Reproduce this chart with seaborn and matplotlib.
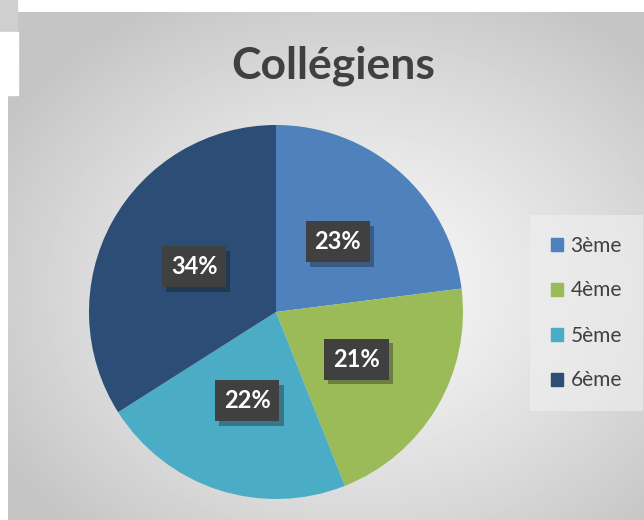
import numpy as np
import seaborn as sns
import matplotlib.pyplot as plt
import matplotlib.patheffects as pe
from matplotlib.patches import Rectangle

# data
categories = ["3ème", "4ème", "5ème", "6ème"]
shares = [23, 21, 22, 34]
colors = ["#4F81BD", "#9BBB59", "#4BACC6", "#2C4D75"]

sns.set_theme(style="white")
plt.rcParams['font.family'] = ['Lato', 'DejaVu Sans']

W, H = 644, 520
fig = plt.figure(figsize=(W / 100, H / 100), dpi=100)
fig.patch.set_facecolor("white")

# radial grey gradient behind the chart area
bg = fig.add_axes([8 / W, 0, (W - 8) / W, (H - 12) / H])
yy, xx = np.mgrid[0:1:300j, 0:1:380j]
dist = np.sqrt(((xx - 0.55) / 0.8) ** 2 + ((yy - 0.45) / 0.8) ** 2)
shade = np.clip(0.97 - 0.26 * dist ** 1.3, 0.77, 0.97)
bg.imshow(shade, cmap="gray", vmin=0, vmax=1, extent=[0, 1, 0, 1],
          aspect="auto", origin="lower")
bg.set_axis_off()

# little grey tab at the top-left corner
fig.patches.append(Rectangle((0, (H - 32) / H), 17 / W, 32 / H,
                             transform=fig.transFigure, color="#cfcfcf", zorder=0.5))
fig.patches.append(Rectangle((0, (H - 95) / H), 18 / W, 63 / H,
                             transform=fig.transFigure, color="white", zorder=0.5))

# pie
cx, cy, r = 276, 312, 187
ax = fig.add_axes([(cx - r) / W, (H - cy - r) / H, 2 * r / W, 2 * r / H])
wedges, _ = ax.pie(shares, colors=colors, startangle=90, counterclock=False,
                   radius=1.0, wedgeprops=dict(linewidth=0))
ax.set_xlim(-1, 1)
ax.set_ylim(-1, 1)
ax.set_aspect("equal")
ax.set_axis_off()

# percentage labels in dark boxes
start = 90.0
for val in shares:
    sweep = 360.0 * val / sum(shares)
    mid = np.deg2rad(start - sweep / 2)
    start -= sweep
    t = ax.text(0.5 * np.cos(mid), 0.5 * np.sin(mid), f"{val}%",
                ha="center", va="center", color="white", fontsize=17,
                fontweight="bold",
                bbox=dict(boxstyle="square,pad=0.38", facecolor="#404040",
                          edgecolor="none"))
    t.get_bbox_patch().set_path_effects(
        [pe.SimplePatchShadow(offset=(3, -3), alpha=0.35), pe.Normal()])

fig.text(333 / W, 1 - 66 / H, "Collégiens", ha="center", va="center",
         fontsize=32, fontweight="bold", color="#404040")

handles = [Rectangle((0, 0), 1, 1, color=c) for c in colors]
leg = fig.legend(handles, categories, loc="center left",
                 bbox_to_anchor=(536 / W, 1 - 313 / H), frameon=True,
                 fontsize=15, handlelength=0.6, handleheight=0.6,
                 handletextpad=0.35, labelspacing=1.2, borderpad=0.7,
                 borderaxespad=0)
leg.get_frame().set_facecolor("#f0f0f0")
leg.get_frame().set_alpha(0.6)
leg.get_frame().set_edgecolor("none")
leg.get_frame().set_boxstyle("square")
for txt in leg.get_texts():
    txt.set_color("#404040")

fig.savefig("out.png", dpi=100)
